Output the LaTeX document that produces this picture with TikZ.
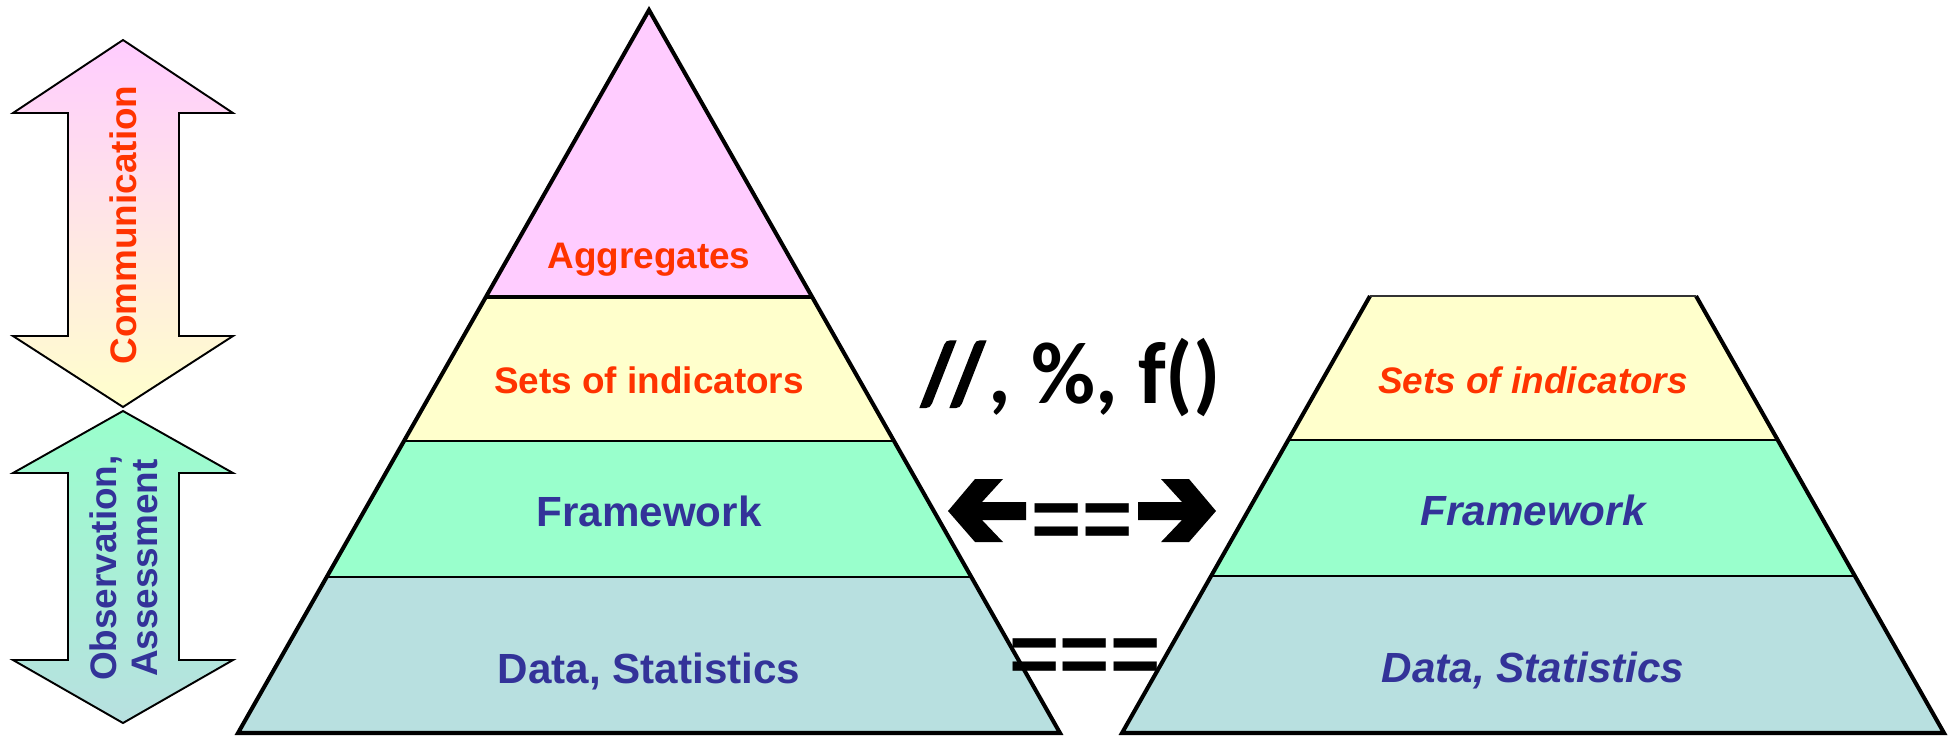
\documentclass[tikz,border=0pt]{standalone}
\usepackage{fontspec}
\setmainfont{Liberation Sans}
\newfontfamily\calfont{Carlito}
\newfontfamily\calheavy[FakeBold=2.5,FakeSlant=-0.08]{Carlito}
\usetikzlibrary{calc}
\definecolor{pyrpink}{HTML}{FFCCFF}
\definecolor{pyryellow}{HTML}{FFFFCC}
\definecolor{pyrgreen}{HTML}{99FFCC}
\definecolor{pyrblue}{HTML}{B8E0E0}
\definecolor{txtred}{HTML}{FF3300}
\definecolor{txtnavy}{HTML}{333399}

\begin{document}
\begin{tikzpicture}[
  x=0.2mm,y=-0.2mm,
  every node/.style={inner sep=0pt},
  redlbl/.style={text=txtred,font=\bfseries\fontsize{21}{25}\selectfont},
  navylbl/.style={text=txtnavy,font=\bfseries\fontsize{24}{28}\selectfont},
  outline/.style={draw=black,line width=2.3pt,line join=miter},
  bandline/.style={draw=black,line width=1.6pt},
  fatarrow/.style={draw=black,line width=1.1pt,line join=miter},
  eqsign/.style={font=\bfseries\fontsize{49}{55}\selectfont,anchor=base}
]
\useasboundingbox (0,0) rectangle (1950,735);

%% ---- double arrows on the left ----
\path[fatarrow,top color=pyrpink,bottom color=pyryellow]
  (123,40) -- (233,113) -- (179,113) -- (179,336) -- (233,336) -- (123,407)
  -- (13,336) -- (68,336) -- (68,113) -- (13,113) -- cycle;
\path[fatarrow,top color=pyrgreen,bottom color=pyrblue]
  (123,411) -- (233,473) -- (179,473) -- (179,660) -- (233,660) -- (123,723)
  -- (13,660) -- (68,660) -- (68,473) -- (13,473) -- cycle;
\node[redlbl,rotate=90] (comm) at (123,225) {Communication};
\node[text=txtnavy,font=\bfseries\fontsize{21}{23.3}\selectfont,
      rotate=90,align=center] (obs) at (124,568) {Observation,\\Assessment};

%% ---- full pyramid ----
\coordinate (apex) at (649,10);
\coordinate (baseL) at (238,733);
\coordinate (baseR) at (1060,733);
\begin{scope}
  \clip (apex) -- (baseL) -- (baseR) -- cycle;
  \fill[pyrpink] (0,0) rectangle (1950,297);
  \fill[pyryellow] (0,297) rectangle (1950,441);
  \fill[pyrgreen] (0,441) rectangle (1950,577);
  \fill[pyrblue] (0,577) rectangle (1950,735);
  \draw[bandline,line width=2.2pt] (0,297) -- (1950,297);
  \draw[bandline] (0,441) -- (1950,441);
  \draw[bandline] (0,577) -- (1950,577);
\end{scope}
\draw[outline] (apex) -- (baseL) -- (baseR) -- cycle;

\node[redlbl,anchor=base] (agg) at (649,268) {Aggregates};
\node[redlbl,anchor=base] (setsL) at (649,393) {Sets of indicators};
\node[navylbl,anchor=base] (frameL) at (649,526) {Framework};
\node[navylbl,anchor=base] (dataL) at (649,683) {Data, Statistics};

%% ---- truncated pyramid ----
\coordinate (topL) at (1370,296);
\coordinate (topR) at (1696,296);
\coordinate (botL) at (1122,733);
\coordinate (botR) at (1944,733);
\begin{scope}
  \clip (topL) -- (topR) -- (botR) -- (botL) -- cycle;
  \fill[pyryellow] (1100,296) rectangle (1950,440);
  \fill[pyrgreen] (1100,440) rectangle (1950,576);
  \fill[pyrblue] (1100,576) rectangle (1950,735);
  \draw[bandline] (1100,440) -- (1950,440);
  \draw[bandline] (1100,576) -- (1950,576);
\end{scope}
\draw[outline] (topR) -- (botR) -- (botL) -- (topL);
\draw[line width=1.1pt,draw=black!80] (topL) -- (topR);

\node[redlbl,anchor=base,font=\bfseries\itshape\fontsize{21}{25}\selectfont] (setsR) at (1533,393) {Sets of indicators};
\node[navylbl,anchor=base,font=\bfseries\itshape\fontsize{24}{28}\selectfont] (frameR) at (1533,525) {Framework};
\node[navylbl,anchor=base,font=\bfseries\itshape\fontsize{24}{28}\selectfont] (dataR) at (1533,682) {Data, Statistics};

%% ---- in between ----
\node[anchor=base,font=\calfont\bfseries\fontsize{50}{56}\selectfont] (ops) at (1071,403)
  {{\calheavy\bfseries /\kern-0.09em/}, \%, f()};
\node[eqsign] (eqtop) at (1082,548) {==};
\node[eqsign] (eqbot) at (1085,683) {===};
\fill (948,511) -- (975,479) -- (1003,479) -- (982,502) -- (1026,502)
  -- (1026,520) -- (982,520) -- (1003,542) -- (975,542) -- cycle;
\fill[shift={(2164,0)},xscale=-1] (948,511) -- (975,479) -- (1003,479) -- (982,502) -- (1026,502)
  -- (1026,520) -- (982,520) -- (1003,542) -- (975,542) -- cycle;

\end{tikzpicture}
\end{document}
